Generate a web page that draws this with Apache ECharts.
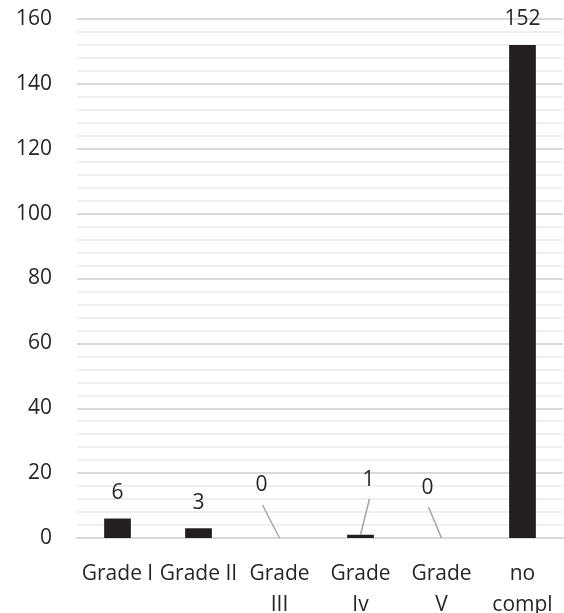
<!DOCTYPE html>
<html><head><meta charset="utf-8">
<script src="https://cdn.jsdelivr.net/npm/echarts@6/dist/echarts.min.js"></script>
<style>html,body{margin:0;padding:0;background:#fff}#c{width:564px;height:613px}</style>
</head><body><div id="c"></div>
<script>
var categories = ['Grade I', 'Grade II', 'Grade\nIII', 'Grade\nIv', 'Grade\nV', 'no\ncompl'];
var values = [6, 3, 0, 1, 0, 152];
var yTicks = [0, 20, 40, 60, 80, 100, 120, 140, 160];
// pixel styling: label offsets and leader-line ends (relative to bar top centre)
var labelOffsets = {2: [-18, -27], 3: [8, -29], 4: [-14, -24]};
var leaderEnds = {2: [-17, -33], 3: [9, -36], 4: [-13, -31]};

var leaderData = Object.keys(leaderEnds).map(function (k) {
  return [Number(k), values[Number(k)]];
});

var chart = echarts.init(document.getElementById('c'), null, {renderer: 'canvas'});
chart.setOption({
  animation: false,
  textStyle: {fontFamily: 'Open Sans'},
  grid: {left: 77, right: 1, top: 19, bottom: 75, containLabel: false, outerBoundsMode: 'none'},
  xAxis: {
    type: 'category', data: categories,
    axisLine: {show: true, lineStyle: {color: '#d9d9d9', width: 2}},
    axisTick: {show: false},
    axisLabel: {color: '#262626', fontSize: 21, margin: 21, lineHeight: 31, interval: 0, fontFamily: 'Open Sans'}
  },
  yAxis: {
    type: 'value', min: yTicks[0], max: yTicks[yTicks.length - 1], interval: 20,
    axisLine: {show: false}, axisTick: {show: false},
    axisLabel: {color: '#262626', fontSize: 21, margin: 25, fontFamily: 'Open Sans'},
    splitLine: {lineStyle: {color: '#d9d9d9', width: 2}},
    minorTick: {show: false, splitNumber: 5},
    minorSplitLine: {show: true, lineStyle: {color: '#efefef', width: 2}}
  },
  series: [{
    type: 'bar', data: values, barWidth: '33%',
    itemStyle: {color: '#231f20'},
    label: {show: true, position: 'top', distance: 15, color: '#262626', fontSize: 21, fontFamily: 'Open Sans'},
    labelLayout: function (p) {
      var o = labelOffsets[p.dataIndex];
      return o ? {dx: o[0], dy: o[1]} : {};
    }
  }, {
    type: 'custom', data: leaderData, silent: true, z: 5,
    renderItem: function (params, api) {
      var idx = api.value(0);
      var p = api.coord([idx, api.value(1)]);
      var e = leaderEnds[idx];
      return {
        type: 'line',
        shape: {x1: p[0], y1: p[1], x2: p[0] + e[0], y2: p[1] + e[1]},
        style: {stroke: '#a6a6a6', lineWidth: 1.5}
      };
    }
  }]
});
</script></body></html>
